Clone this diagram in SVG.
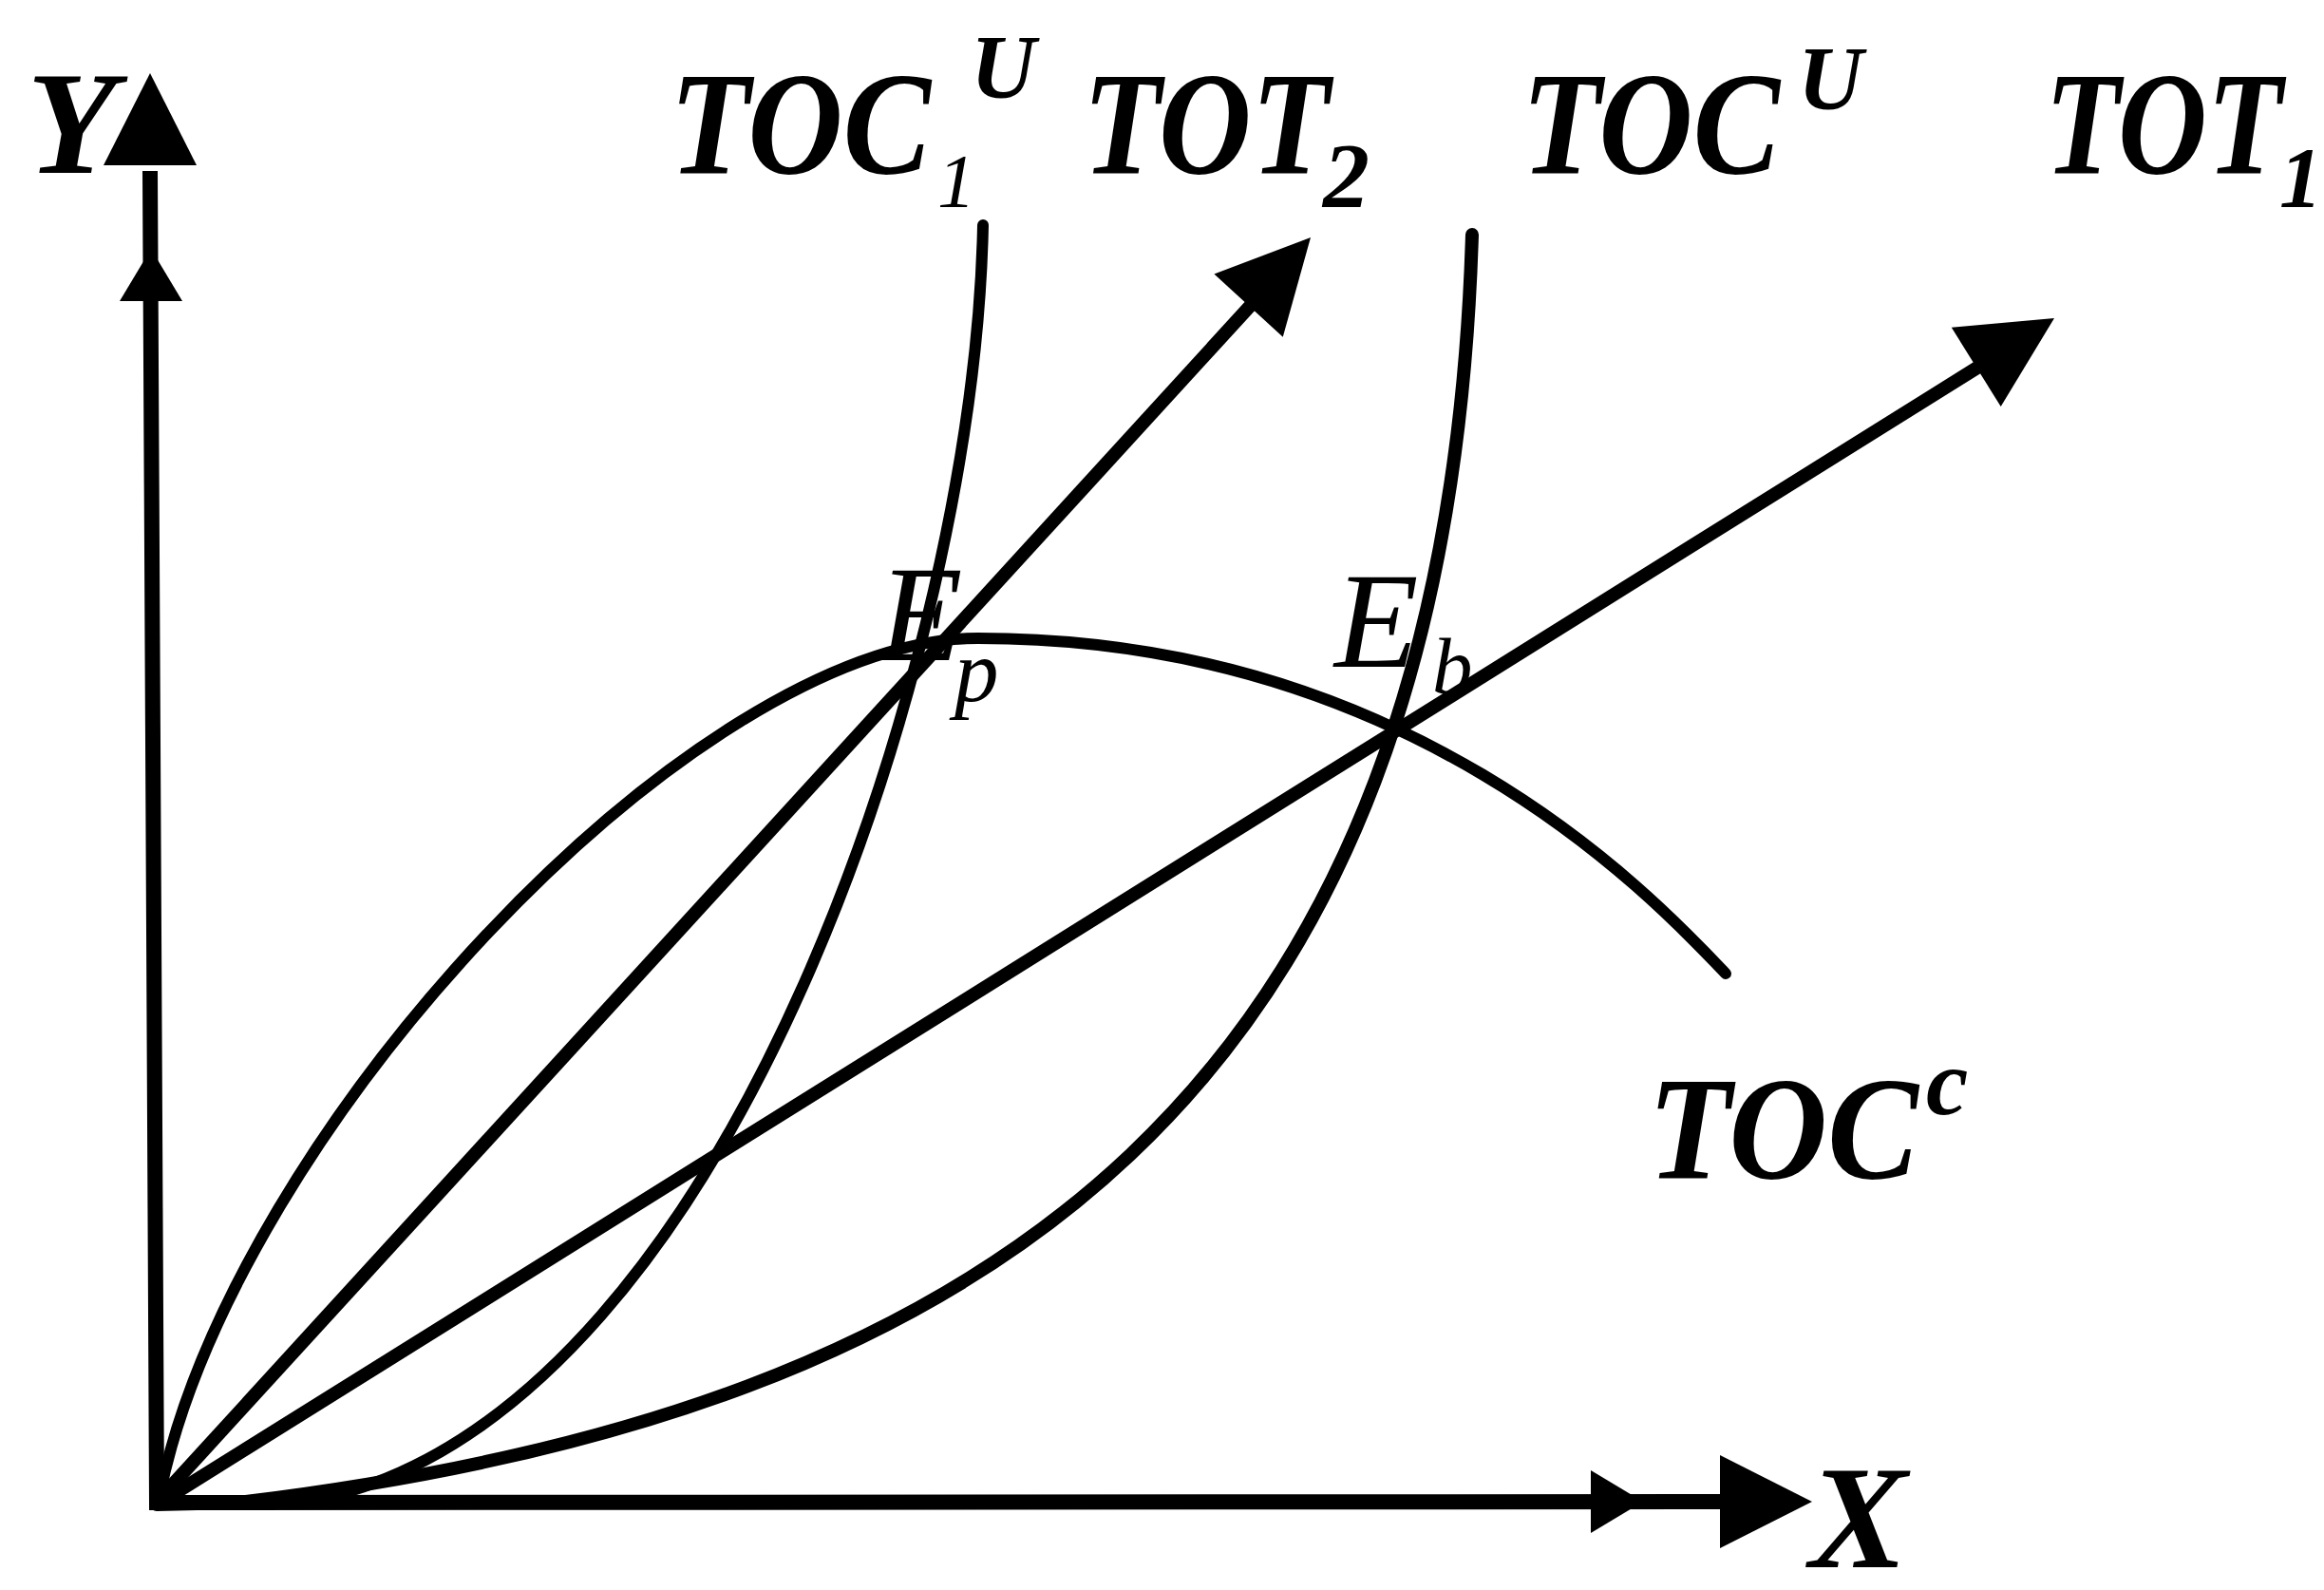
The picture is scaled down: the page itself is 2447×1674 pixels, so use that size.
<svg xmlns="http://www.w3.org/2000/svg" width="2447" height="1674" viewBox="0 0 2447 1674">
<style>
.ax{fill:none;stroke:#000;stroke-width:16;stroke-linejoin:miter}
.ln{fill:none;stroke:#000;stroke-width:14;stroke-linecap:butt}
.cv{fill:none;stroke:#000;stroke-width:12;stroke-linecap:round}
.hd{fill:#000}
text{font-family:"Liberation Serif","Times New Roman",serif;font-style:italic;font-weight:bold;fill:#000}
.big{font-size:155px}
.sm{font-size:95px}
.lt{font-weight:normal}
</style>
<defs>
<path id="headL" d="M0,0 L-97,-49 L-97,49 Z"/>
<path id="headS" d="M0,0 L-55,-33 L-55,33 Z"/>
</defs>
<rect width="2447" height="1674" fill="#fff"/>
<g id="connectors">
<g id="axes">
<path class="ax" d="M158,180 L165,1582 L1815,1581"/>
<use href="#headL" class="hd" transform="translate(158,77) rotate(-90)"/>
<use href="#headS" class="hd" transform="translate(159,262) rotate(-90)"/>
<use href="#headS" class="hd" transform="translate(1730,1581)"/>
<use href="#headL" class="hd" transform="translate(1908,1581)"/>
</g>
<g id="tot2">
<path class="ln" d="M168,1578 L1320,318"/>
<use href="#headL" class="hd" transform="translate(1380,250) rotate(-47.6)"/>
</g>
<g id="tot1">
<path class="ln" d="M178,1576 L2090,382"/>
<use href="#headL" class="hd" transform="translate(2163,335) rotate(-32)"/>
</g>
<path id="toc1u" class="cv" d="M230,1582 L350,1575 C770,1470 1026,687 1035,237"/>
<path id="tocu" class="cv" style="stroke-width:14" d="M165,1584 L250,1582 C1050,1486 1523,1147 1550,247"/>
<path id="tocc" class="cv" d="M168,1575 C244,1195 730,672 1030,672 C1480,672 1734,937 1817,1025"/>
</g>
<g id="label-Y"><text class="big" x="28" y="182">Y</text></g>
<g id="label-X"><text class="big" x="1905" y="1650">X</text></g>
<g id="label-TOC1U"><text class="big" x="705" y="182" textLength="275" lengthAdjust="spacingAndGlyphs">TOC</text><text class="lt" x="987" y="218" font-size="80">1</text><text class="sm" x="1022" y="103">U</text></g>
<g id="label-TOT2"><text class="big" x="1140" y="182" textLength="260" lengthAdjust="spacingAndGlyphs">TOT</text><text x="1393" y="218" font-size="98">2</text></g>
<g id="label-TOCU"><text class="big" x="1602" y="182" textLength="272" lengthAdjust="spacingAndGlyphs">TOC</text><text class="sm" x="1893" y="115">U</text></g>
<g id="label-TOT1"><text class="big" x="2153" y="182" textLength="250" lengthAdjust="spacingAndGlyphs">TOT</text><text x="2400" y="218" font-size="90">1</text></g>
<g id="label-TOCc"><text class="big" x="1735" y="1240" textLength="285" lengthAdjust="spacingAndGlyphs">TOC</text><text x="2028" y="1173" font-size="100">c</text></g>
<g id="label-Ep"><text class="lt" x="925" y="695" font-size="145">E</text><text class="lt" x="1005" y="738" font-size="93">p</text></g>
<g id="label-Eb"><text class="lt" x="1405" y="702" font-size="145">E</text><text class="lt" x="1508" y="730" font-size="85">b</text></g>
</svg>
